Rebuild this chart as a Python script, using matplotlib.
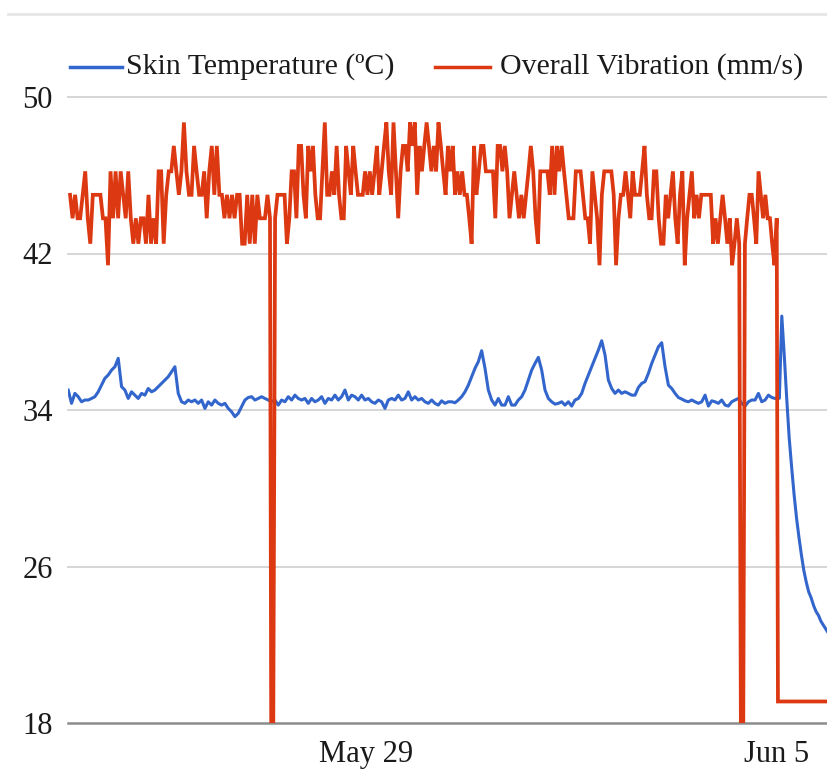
import numpy as np
import pandas as pd
import matplotlib
matplotlib.use("Agg")
import matplotlib.pyplot as plt
from matplotlib.lines import Line2D

plt.rcParams['font.family'] = ['Liberation Serif', 'DejaVu Serif']

# --- skin temperature (C), evenly sampled run ---
temp_start = "2023-05-23 22:15"
temp_end = "2023-06-04 23:15"
temp_main = [
    35.02, 34.34, 34.85, 34.68, 34.42, 34.51, 34.51, 34.59, 34.68, 34.93,
    35.27, 35.62, 35.79, 36.04, 36.21, 36.64, 35.19, 35.02, 34.59, 34.93,
    34.76, 34.59, 34.85, 34.76, 35.10, 34.93, 35.02, 35.19, 35.36, 35.53,
    35.70, 35.96, 36.21, 34.85, 34.42, 34.34, 34.51, 34.42, 34.51, 34.34,
    34.51, 34.08, 34.42, 34.25, 34.51, 34.34, 34.25, 34.34, 34.08, 33.91,
    33.66, 33.83, 34.17, 34.51, 34.64, 34.68, 34.51, 34.59, 34.68, 34.59,
    34.51, 34.42, 34.51, 34.25, 34.51, 34.42, 34.68, 34.51, 34.76, 34.59,
    34.51, 34.59, 34.34, 34.59, 34.42, 34.51, 34.68, 34.34, 34.59, 34.51,
    34.76, 34.51, 34.68, 35.02, 34.51, 34.76, 34.68, 34.51, 34.76, 34.51,
    34.59, 34.42, 34.34, 34.51, 34.42, 34.08, 34.51, 34.59, 34.51, 34.76,
    34.51, 34.59, 34.93, 34.51, 34.68, 34.51, 34.59, 34.42, 34.34, 34.51,
    34.34, 34.25,
    34.47, 34.34, 34.42, 34.42, 34.37, 34.51, 34.68, 34.93, 35.27, 35.70,
    36.13, 36.47, 37.03, 36.13, 35.02, 34.51, 34.25, 34.59, 34.25, 34.25,
    34.68, 34.25, 34.25, 34.51, 34.68, 35.02, 35.53, 36.04, 36.38, 36.69,
    36.04, 35.02, 34.59, 34.42, 34.30, 34.34, 34.42, 34.25, 34.42, 34.20,
    34.51, 34.59, 34.85, 35.36, 35.79, 36.21, 36.64, 37.06, 37.54, 36.81,
    35.53, 35.10, 34.85, 35.02, 34.85, 34.93, 34.85, 34.76, 34.76, 35.15,
    35.36, 35.45, 35.87, 36.38, 36.81, 37.23, 37.44, 36.21, 35.27, 35.10,
    34.85, 34.64, 34.56, 34.47, 34.42, 34.51, 34.42, 34.34, 34.42, 34.76,
    34.20, 34.47, 34.42, 34.34, 34.51, 34.25, 34.20, 34.42, 34.51, 34.59,
    34.34, 34.20, 34.42, 34.51, 34.51, 34.85, 34.42, 34.51, 34.76, 34.64,
    34.59,
]
# after the restart, hours past Jun 5 00:00
temp_tail_hours = [1, 2, 3, 4, 5, 6, 7, 8, 9, 10, 11, 12, 13, 14, 15, 16, 17, 18, 19, 20, 21, 22]
temp_tail = [34.6, 38.8, 36.8, 34.6, 32.6, 31.1, 29.7, 28.5, 27.5, 26.6, 25.8,
             25.2, 24.7, 24.4, 24.0, 23.7, 23.5, 23.2, 23.0, 22.8, 22.6, 22.4]

# --- overall vibration (mm/s) ---
vib_a_start, vib_a_end = "2023-05-23 23:00", "2023-05-27 08:45"
vib_a = [
    45.0, 43.8, 45.0, 43.8, 43.8, 45.0, 46.2, 43.8, 42.5, 45.0,
    45.0, 45.0, 45.0, 43.8, 43.8, 41.4, 46.2, 43.8, 46.2, 43.8,
    46.2, 45.0, 43.8, 46.2, 43.8, 42.5, 43.8, 42.5, 43.8, 43.8,
    42.5, 45.0, 42.5, 43.8, 42.5, 46.2, 46.2, 42.5, 45.0, 46.2,
    46.2, 47.5, 46.2, 45.0, 46.2, 48.7, 46.2, 45.0, 45.0, 47.5,
    46.2, 45.0, 45.0, 46.2, 43.8, 46.2, 47.5, 45.0, 47.5, 45.0,
    45.0, 43.8, 45.0, 43.8, 45.0, 43.8, 45.0, 45.0, 42.5,
    42.5, 45.0, 42.5, 45.0, 42.5, 45.0, 43.8, 43.8, 43.8, 45.0, 43.8,
]
drop1_time = "2023-05-27 09:35"
vib_b_start, vib_b_end = "2023-05-27 10:50", "2023-06-04 08:35"
vib_b = [
    43.8, 45.0, 45.0, 45.0, 45.0, 42.5, 43.8, 46.2, 46.2, 43.8,
    47.5, 47.5, 45.0, 43.8, 47.5, 46.2, 47.5, 45.0, 43.8, 43.8,
    46.2, 48.7, 45.0, 45.0, 46.2, 45.0, 47.5, 45.0, 43.8, 43.8,
    47.5, 46.2, 45.0, 47.5, 46.2, 45.0, 45.0, 45.0, 46.2, 45.0,
    46.2, 45.0, 46.2, 47.5, 45.0, 46.2, 47.5, 48.7, 46.2, 45.0,
    48.7, 46.2, 43.8, 46.2, 47.5, 47.5, 46.2, 48.7, 47.5,
    48.7, 45.0, 47.5, 46.2, 47.5, 48.7, 47.5, 46.2, 47.5, 46.2,
    48.7, 47.5, 46.2, 45.0, 47.5, 46.2, 47.5, 45.0, 46.2, 45.0,
    46.2, 45.0, 45.0, 43.8, 42.5, 47.5, 45.0, 46.2, 47.5, 47.5,
    46.2, 46.2, 46.2, 46.2, 43.8, 47.5, 47.5, 46.2, 47.5, 46.2,
    43.8, 45.0, 46.2, 45.0, 43.8, 45.0, 43.8, 45.0, 46.2, 47.5,
    46.2, 43.8, 42.5, 46.2, 46.2, 46.2, 46.2, 45.0, 47.5, 45.0,
    47.5, 46.2, 47.5, 46.2, 45.0, 43.8, 43.8, 43.8, 46.2, 46.2,
    46.2, 45.0, 43.8, 43.8, 42.5,
    46.2, 45.0, 43.8, 41.4, 45.0, 46.2, 46.2, 46.2, 46.2, 45.0,
    41.4, 43.8, 45.0, 45.0, 46.2, 45.0, 43.8, 46.2, 45.0, 45.0,
    45.0, 46.2, 47.5, 45.0, 43.8, 43.8, 46.2, 46.2, 43.8, 42.5,
    42.5, 45.0, 43.8, 45.0, 46.2, 43.8, 42.5, 45.0, 46.2, 41.4,
    43.8, 45.0, 46.2, 43.8, 45.0, 43.8, 45.0, 45.0, 45.0, 45.0,
    45.0, 42.5, 43.8, 42.5, 43.8, 45.0, 43.8, 42.5, 43.8, 41.4,
    42.5, 43.8, 42.5,
]
drop2_time = "2023-06-04 09:45"
vib_c_start, vib_c_end = "2023-06-04 10:55", "2023-06-04 23:55"
vib_c = [42.5, 43.8, 45.0, 45.0, 43.8, 42.5, 46.2, 45.0, 43.8, 45.0,
         43.8, 43.8, 42.5, 41.4, 43.8]
drop_value = 0.0
vib_off_start, vib_off_end = "2023-06-05 00:25", "2023-06-05 22:00"
vib_off = 19.1

yticks = [18, 26, 34, 42, 50]
xtick_dates = ["2023-05-29", "2023-06-05"]
xtick_labels = ["May 29", "Jun 5"]
x_min, x_max = "2023-05-23 22:10", "2023-06-05 20:53"

blue = '#3366cc'
red = '#dc3912'
txt = '#1a1a1a'

# build series
t_main = pd.date_range(temp_start, temp_end, periods=len(temp_main))
t_tail = pd.Timestamp("2023-06-05") + pd.to_timedelta(temp_tail_hours, unit='h')
temp_t = t_main.append(t_tail)
temp_v = np.array(temp_main + temp_tail)

vib_t = (pd.date_range(vib_a_start, vib_a_end, periods=len(vib_a))
         .append(pd.DatetimeIndex([drop1_time]))
         .append(pd.date_range(vib_b_start, vib_b_end, periods=len(vib_b)))
         .append(pd.DatetimeIndex([drop2_time]))
         .append(pd.date_range(vib_c_start, vib_c_end, periods=len(vib_c)))
         .append(pd.DatetimeIndex([vib_off_start, vib_off_end])))
vib_v = np.array(vib_a + [drop_value] + vib_b + [drop_value] + vib_c + [vib_off, vib_off])

fig = plt.figure(figsize=(8.28, 7.72), dpi=100)
ax = fig.add_axes([68 / 828, 49 / 772, 1 - 68 / 828, 626 / 772])

for y in yticks[1:]:
    ax.axhline(y, color='#d6d6d6', lw=1.4, zorder=1, clip_on=False)
ax.axhline(18, color='#8c8c8c', lw=1.8, zorder=1, clip_on=False)

ax.plot(temp_t, temp_v, color=blue, lw=2.2, zorder=3)
ax.plot(vib_t, vib_v, color=red, lw=2.7, zorder=4, solid_joinstyle='miter')

ax.set_ylim(18, 50)
ax.set_xlim(pd.Timestamp(x_min), pd.Timestamp(x_max))
ax.set_yticks(yticks)
ax.set_yticklabels([str(v) for v in yticks])
ax.set_xticks(pd.to_datetime(xtick_dates))
ax.set_xticklabels(xtick_labels)
ax.tick_params(axis='both', length=0, labelsize=22, colors=txt)
ax.tick_params(axis='y', pad=11)
ax.tick_params(axis='x', pad=12)
for s in ax.spines.values():
    s.set_visible(False)

# top rule and legend
fig.add_artist(Line2D([8 / 828, 1.0], [1 - 14 / 772] * 2, color='#e6e6e6', lw=2))
ly = 1 - 67 / 772
fig.add_artist(Line2D([70 / 828, 122 / 828], [ly, ly], color=blue, lw=2.5))
fig.text(126 / 828, ly, "Skin Temperature (ºC)", fontsize=21.5, color=txt, va='center', ha='left')
fig.add_artist(Line2D([435 / 828, 490 / 828], [ly, ly], color=red, lw=2.5))
fig.text(500 / 828, ly, "Overall Vibration (mm/s)", fontsize=21.5, color=txt, va='center', ha='left')

fig.savefig("out.png", dpi=100)
